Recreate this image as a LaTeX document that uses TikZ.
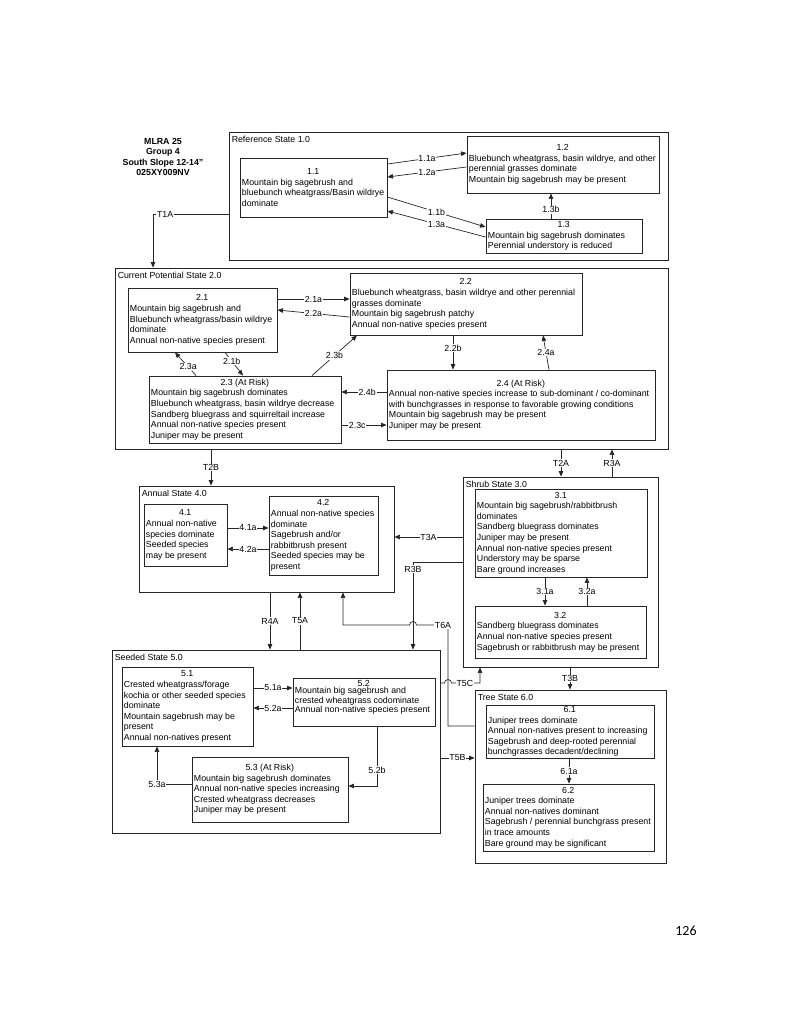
\documentclass[tikz,border=0pt]{standalone}
\usepackage{fontspec}
\setmainfont{Liberation Sans}
\newfontfamily\pagefont{Carlito}
\usetikzlibrary{arrows.meta}
\newcommand{\fsz}{\fontsize{8.8}{10.6}\selectfont}
\tikzset{
  inbox/.style={draw=black!85, line width=0.9pt, inner sep=0pt},
  statebox/.style={draw=black!85, line width=0.9pt, inner sep=0pt},
  boxtext/.style={align=left, inner sep=0pt, font=\fsz},
  stlabel/.style={anchor=north west, inner sep=0pt, font=\fsz},
  conn/.style={draw=black!85, line width=0.7pt},
  arr/.style={conn, -{Triangle[length=5.5pt,width=4.5pt]}},
  lab/.style={fill=white, inner sep=0.8pt, font=\fsz},
}
\newcommand{\strect}[6]{%
  \node[statebox, minimum width={#4-#2}, minimum height={#5-#3}] (#1) at ({(#2+#4)/2},{(#3+#5)/2}) {};
  \node[stlabel] (#1l) at ([xshift=3pt,yshift=-4.2pt]#1.north west) {#6};
}
\newcommand{\stbox}[8][]{%
  \node[inbox, minimum width={#5-#3}, minimum height={#6-#4}] (#2) at ({(#3+#5)/2},{(#4+#6)/2}) {};
  \node[boxtext, anchor=west, #1] (#2t) at ([xshift=2.2pt]#2.west) {\makebox[\dimexpr#5pt-#3pt-4.4pt\relax]{#7}\\#8};
}
\begin{document}
\begin{tikzpicture}[x=1pt,y=-1pt]
\fill[white] (0,0) rectangle (800,1036);
\useasboundingbox (0,0) rectangle (800,1036);

\node[font=\bfseries\fsz, align=center, inner sep=0pt] (mlra) at (163,157) {MLRA 25\\Group 4\\South Slope 12-14"\\025XY009NV};

% ---------- Reference State 1.0
\strect{S1}{229}{132}{668}{260}{Reference State 1.0}
\stbox{b11}{240}{158}{387}{217}{1.1}{Mountain big sagebrush and\\bluebunch wheatgrass/Basin wildrye\\dominate}
\stbox{b12}{467}{136}{659}{193}{1.2}{Bluebunch wheatgrass, basin wildrye, and other\\perennial grasses dominate\\Mountain big sagebrush may be present}
\stbox{b13}{486}{219}{642}{253}{1.3}{Mountain big sagebrush dominates\\Perennial understory is reduced}

% ---------- Current Potential State 2.0
\strect{S2}{115}{268}{668}{449}{Current Potential State 2.0}
\stbox{b21}{128}{288}{277}{352}{2.1}{Mountain big sagebrush and\\Bluebunch wheatgrass/basin wildrye\\dominate\\Annual non-native species present}
\stbox{b22}{350}{273}{582}{335}{2.2}{Bluebunch wheatgrass, basin wildrye and other perennial\\grasses dominate\\Mountain big sagebrush patchy\\Annual non-native species present}
\stbox{b23}{149}{376}{341}{443}{2.3 (At Risk)}{Mountain big sagebrush dominates\\Bluebunch wheatgrass, basin wildrye decrease\\Sandberg bluegrass and squirreltail increase\\Annual non-native species present\\Juniper may be present}
\stbox{b24}{387}{370}{655}{440}{2.4 (At Risk)}{Annual non-native species increase to sub-dominant / co-dominant\\with bunchgrasses in response to favorable growing conditions\\Mountain big sagebrush may be present\\Juniper may be present}

% ---------- Annual State 4.0
\strect{S4}{139}{486}{394}{592}{Annual State 4.0}
\stbox{b41}{144}{504}{227}{566}{4.1}{Annual non-native\\species dominate\\Seeded species\\may be present}
\stbox{b42}{269}{496}{378}{575}{4.2}{Annual non-native species\\dominate\\Sagebrush and/or\\rabbitbrush present\\Seeded species may be\\present}

% ---------- Shrub State 3.0
\strect{S3}{463}{477}{658}{667}{Shrub State 3.0}
\stbox{b31}{475}{489}{647}{577}{3.1}{Mountain big sagebrush/rabbitbrush\\dominates\\Sandberg bluegrass dominates\\Juniper may be present\\Annual non-native species present\\Understory may be sparse\\Bare ground increases}
\stbox{b32}{475}{606}{646}{658}{3.2}{Sandberg bluegrass dominates\\Annual non-native species present\\Sagebrush or rabbitbrush may be present}

% ---------- Seeded State 5.0
\strect{S5}{112}{650}{440}{833}{Seeded State 5.0}
\stbox{b51}{122}{667}{253}{746}{5.1}{Crested wheatgrass/forage\\kochia or other seeded species\\dominate\\Mountain sagebrush may be\\present\\Annual non-natives present}
\stbox[font=\fontsize{8.8}{7.9}\selectfont, yshift=5pt]{b52}{293}{678}{435}{726}{5.2}{Mountain big sagebrush and\\crested wheatgrass codominate\\Annual non-native species present}
\stbox{b53}{192}{757}{348}{822}{5.3 (At Risk)}{Mountain big sagebrush dominates\\Annual non-native species increasing\\Crested wheatgrass decreases\\Juniper may be present}

% ---------- Tree State 6.0
\strect{S6}{475}{690}{666}{863}{Tree State 6.0}
\stbox{b61}{486}{705}{654}{758}{6.1}{Juniper trees dominate\\Annual non-natives present to increasing\\Sagebrush and deep-rooted perennial\\bunchgrasses decadent/declining}
\stbox{b62}{483}{784}{654}{851}{6.2}{Juniper trees dominate\\Annual non-natives dominant\\Sagebrush / perennial bunchgrass present\\in trace amounts\\Bare ground may be significant}

% ---------- connectors: reference state
\draw[arr] (b11.east |- 0,164) -- node[lab]{1.1a} (b12.west |- 0,153);
\draw[arr] (b12.west |- 0,167) -- node[lab]{1.2a} (b11.east |- 0,177);
\draw[arr] (b11.east |- 0,197) -- node[lab]{1.1b} (b13.west |- 0,227);
\draw[arr] (b13.west |- 0,237) -- node[lab]{1.3a} (b11.east |- 0,211);
\draw[arr] (b13.north -| 551,0) -- node[lab,pos=0.35]{1.3b} (b12.south -| 551,0);

% T1A
\coordinate (c1) at (153,214);
\draw[arr] (S1.west |- c1) -- node[lab,pos=0.84]{T1A} (c1) -- (S2.north -| c1);

% ---------- connectors: current potential state
\draw[arr] (b21.east |- 0,299) -- node[lab]{2.1a} (b22.west |- 0,299);
\draw[arr] (b22.west |- 0,317) -- node[lab]{2.2a} (b21.east |- 0,310);
\draw[arr] (b23.north -| 196,0) -- node[lab,pos=0.375]{2.3a} (b21.south -| 175,0);
\draw[arr] (b21.south -| 225,0) -- node[lab,pos=0.375]{2.1b} (b23.north -| 243,0);
\draw[arr] (b23.north -| 312,0) -- node[lab]{2.3b} (b22.south -| 357,0);
\draw[arr] (b22.south -| 453,0) -- node[lab,pos=0.37]{2.2b} (b24.north -| 453,0);
\draw[arr] (b24.north -| 549,0) -- node[lab]{2.4a} (b22.south -| 543,0);
\draw[arr] (b24.west |- 0,392) -- node[lab,pos=0.43]{2.4b} (b23.east |- 0,392);
\draw[arr] (b23.east |- 0,425) -- node[lab,pos=0.35]{2.3c} (b24.west |- 0,425);

% ---------- between states
\draw[arr] (S2.south -| 211,0) -- node[lab]{T2B} (S4.north -| 211,0);
\draw[arr] (S2.south -| 561,0) -- node[lab]{T2A} (S3.north -| 561,0);
\draw[arr] (S3.north -| 612,0) -- node[lab]{R3A} (S2.south -| 612,0);
\draw[arr] (S3.west |- 0,537) -- node[lab]{T3A} (S4.east |- 0,537);
\coordinate (r3b) at (413,562);
\draw[arr] (S3.west |- r3b) -- (r3b) -- node[lab,pos=0.08]{R3B} (S5.north -| r3b);
\coordinate (t6a1) at (448,726);
\coordinate (t6a2) at (448,625);
\coordinate (hop1) at (416.5,625);
\coordinate (t6a3) at (343,625);
\draw[arr] (S6.west |- t6a1) -- (t6a1) -- (t6a2) -- node[lab,pos=0.16]{T6A} (hop1) arc[start angle=0,end angle=180,radius=3.5pt] -- (t6a3) -- (S4.south -| t6a3);
\coordinate (t5c1) at (480,683);
\coordinate (hop2) at (444.5,683);
\draw[arr] (S5.east |- t5c1) -- (hop2) arc[start angle=180,end angle=0,radius=3.5pt] -- node[lab,pos=0.47]{T5C} (t5c1) -- (S3.south -| t5c1);
\draw[arr] (S5.east |- 0,758) -- node[lab]{T5B} (S6.west |- 0,758);
\draw[arr] (S3.south -| 570,0) -- node[lab]{T3B} (S6.north -| 570,0);
\draw[arr] (S4.south -| 270,0) -- node[lab]{R4A} (S5.north -| 270,0);
\draw[arr] (S5.north -| 300,0) -- node[lab]{T5A} (S4.south -| 300,0);

% ---------- annual state
\draw[arr] (b41.east |- 0,528) -- node[lab]{4.1a} (b42.west |- 0,528);
\draw[arr] (b42.west |- 0,549) -- node[lab]{4.2a} (b41.east |- 0,549);

% ---------- shrub state
\draw[arr] (b31.south -| 545,0) -- node[lab]{3.1a} (b32.north -| 545,0);
\draw[arr] (b32.north -| 587,0) -- node[lab]{3.2a} (b31.south -| 587,0);

% ---------- seeded state
\draw[arr] (b51.east |- 0,688) -- node[lab]{5.1a} (b52.west |- 0,688);
\draw[arr] (b52.west |- 0,708) -- node[lab]{5.2a} (b51.east |- 0,708);
\coordinate (c52) at (377,786);
\draw[arr] (b52.south -| c52) -- node[lab,pos=0.73]{5.2b} (c52) -- (b53.east |- c52);
\coordinate (c53) at (157,784);
\draw[arr] (b53.west |- c53) -- (c53) node[lab]{5.3a} -- (b51.south -| c53);

% ---------- tree state
\draw[arr] (b61.south -| 569,0) -- node[lab]{6.1a} (b62.north -| 569,0);

\node[font=\pagefont\fontsize{14}{16}\selectfont, inner sep=0pt] (pg) at (686,931) {126};
\end{tikzpicture}
\end{document}
